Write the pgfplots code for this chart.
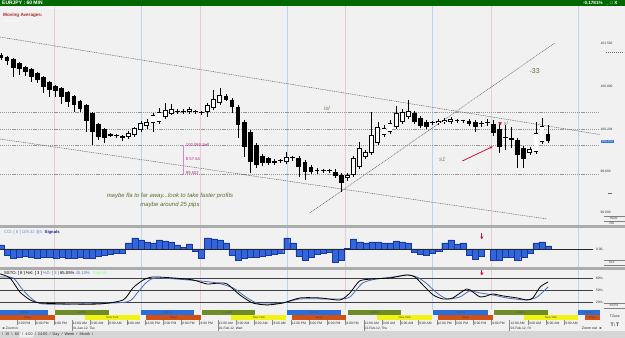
\documentclass[border=0pt]{standalone}
\usepackage{pgfplots}
\pgfplotsset{compat=1.18}
\usepackage{pgfplotstable}
\usepackage{fontspec}
\setmainfont{Liberation Sans}
\usetikzlibrary{arrows.meta}
\newcommand\fs[1]{\fontsize{#1}{#1}\selectfont}

\definecolor{bgc}{RGB}{241,241,241}
\definecolor{titlegreen}{RGB}{0,104,0}
\definecolor{gridblue}{RGB}{184,212,238}
\definecolor{gridpink}{RGB}{228,206,214}
\definecolor{hline}{RGB}{150,150,150}
\definecolor{tline}{RGB}{95,95,95}
\definecolor{ccibar}{RGB}{51,102,221}
\definecolor{cciedge}{RGB}{25,55,150}
\definecolor{dblue}{RGB}{74,111,181}
\definecolor{ccilab}{RGB}{100,140,215}
\definecolor{navy}{RGB}{20,30,140}
\definecolor{sydney}{RGB}{42,110,220}
\definecolor{london}{RGB}{110,140,40}
\definecolor{tokyo}{RGB}{210,80,20}
\definecolor{newyork}{RGB}{242,242,20}
\definecolor{olivetxt}{RGB}{88,110,45}
\definecolor{grayolive}{RGB}{120,135,90}
\definecolor{magtxt}{RGB}{180,40,140}
\definecolor{arrowred}{RGB}{200,20,60}
\definecolor{sepgray}{RGB}{172,172,172}
\definecolor{pricebox}{RGB}{48,112,224}
\definecolor{mared}{RGB}{170,40,40}
\definecolor{tabgray}{RGB}{214,214,214}

% candle data: i = hourly bar index, pixel-price scale (t = body top, b = body bottom, h = high, l = low)
\pgfplotstableread{
i t b h l
0 55 58 53 60
1 57 61 56 65
2 59 68 58 77
3 63 69 62 75
4 67 72 66 76
5 69 77 68 82
6 73 80 72 83
7 77 87 76 93
8 82 90 81 97
9 86 91 85 97
10 88 97 87 104
11 92 102 91 107
12 96 105 95 112
13 101 109 100 112
14 105 121 104 132
15 113 132 112 145
16 124 137 123 140
17 129 138 128 143
18 134 136 133 137
19 135 136.5 134 138
20 136 138 135 141
29 111.5 112.5 109 114
30 111.5 112.5 109 114
32 111.5 112.5 110 114
33 112 113.5 111 115
37 96 100 94 101
38 100 107 98 113
39 107 125 105 138
40 122 147 120 157
41 132 162 130 173
42 145 165 143 168
43 156 163 154 166
44 158 163 157 165
45 161 163 159 165
46 160.5 161.5 159 163
48 157.5 158.5 156 161
49 158 167 156 177
50 162 172 160 180
51 167 172 165 174
52 170.5 171.5 168 174
53 170.5 171.5 169 173
54 170.5 171.5 169 173
55 172 176 169 178
56 175 183 173 192
68 113 122 111 124
69 118 126 116 128
70 122 127 120 129
71 122.5 123.5 121 125
75 120.5 121.5 119 123
76 120.5 121.5 120 123
77 121 124 119 126
78 122 127 120 132
79 123.5 124.5 121 127
80 122.5 123.5 119 126
81 124 133 120 136
82 129 147 123 153
83 137.5 138.5 125 150
84 138 140 127 148
85 140 155 138 168
86 148 159 146 168
90 134 141 125 143
}\blackc

\pgfplotstableread{
i t b h l
21 133 137 131 139
22 128 135 127 137
23 123 130 121 132
24 122 126 119 129
25 115 123 113 132
26 112 122 108 124
27 110 117 103 119
28 109 114 104 115
31 109 112 107 114
34 105 112 103 117
35 99 108 90 110
36 95 103 88 105
47 157 162 152 164
57 175 178 173 181
58 158 175 156 177
59 148 167 142 169
60 152 157 150 159
61 135 153 112 155
62 127 143 122 145
63 128 135 125 137
64 123 132 120 134
65 113 127 106 129
66 112 122 109 124
67 111 117 100 119
72 121 123 119 125
73 120 122 118 124
74 119 122 117 124
87 149 153 147 155
88 133 152 122 154
89 126 142 118 144
}\whitec

\pgfplotstableread{
i v
0 4
1 -6
2 -9
3 -8
4 -7
5 -8
6 -9
7 -8
8 -8
9 -9
10 -8
11 -9
12 -9
13 -8
14 -9
15 -9
16 -7
17 -6
18 -5
19 -4
20 -4
21 6
22 11
23 9
24 7
25 6
26 9
27 8
28 7
29 4
30 1.5
31 5
32 -2
33 -9
34 11
35 10
36 9
37 6
38 -6
39 -11
40 -9
41 -8
42 -8
43 -7
44 -6
45 -5
46 -4
47 11
48 6
49 -7
50 -11
51 -8
52 -5
53 -4
54 -3
55 -13
56 -11
57 0.4
58 10
59 7
60 6
61 7
62 7
63 6
64 6
65 8
66 7
67 6
68 -3
69 -5
70 -6
71 -4
72 -2
73 6
74 9
75 5
76 6
77 -6
78 -10
79 -7
80 -0.4
81 -11
82 -11
83 -8
84 -8
85 -11
86 -8
87 -4
88 6
89 7
90 3
}\cci

\pgfplotstableread{
i k
-0.16 90
1.48 80
3.1 45
4.8 25
6.4 17.5
10.9 15
16.3 15
20.1 25
21.7 55
23.4 75
25.0 82.5
28.3 80
31.6 75
33.9 65
36.0 67.5
37.2 65
39.3 37.5
41.4 17.5
43.8 12.5
46.4 17.5
49.2 30
52.5 30
55.8 25
57.4 42.5
59.0 72.5
61.2 77.5
64.0 80
66.8 87.5
68.1 82.5
69.4 62.5
71.1 37.5
72.7 27.5
74.3 30
76.6 52.5
77.6 45
78.8 32.5
79.9 35
80.9 40
82.6 35
84.9 30
86.5 25
87.5 30
88.7 57.5
90.0 70
}\sstok

\pgfplotstableread{
i d
-0.16 82.5
2.0 80
3.6 50
5.3 25
6.9 15
13.0 15
20.7 20
22.4 42.5
24.0 70
25.7 80
32.7 72.5
35.5 67.5
38.2 55
40.5 30
42.6 15
46.4 17.5
49.2 27.5
55.8 27.5
57.4 32.5
59.5 67.5
61.8 77.5
64.5 82.5
66.8 87.5
68.4 82.5
69.9 67.5
71.7 42.5
73.4 27.5
75.5 32.5
77.1 47.5
78.8 42.5
80.9 37.5
83.2 30
86.5 25
88.2 32.5
90.0 57.5
}\sstod

\pgfplotsset{
  panel/.style={scale only axis, anchor=north west, width=600bp,
    xmin=-0.1645, xmax=98.52,
    axis line style={draw=none},
    axis background/.style={fill=bgc},
    xtick={23.03,47.03,71.03,95.03}, xticklabels={},
    minor xtick={8.72,32.72,56.72,80.72},
    xmajorgrids, xminorgrids,
    major grid style={draw=gridblue, line width=0.7bp, solid},
    minor grid style={draw=gridpink, line width=0.7bp, solid},
    tick style={draw=none}},
  candlebar/.style 2 args={draw=none, mark=none, forget plot,
    error bars/.cd, y dir=plus, y explicit,
    error mark=none, error mark options={draw=none, fill=none},
    error bar style={draw=#1, line width=#2, line cap=butt, solid}},
}

\begin{document}
\begin{tikzpicture}
\begin{scope}[x=1bp,y=-1bp]
\useasboundingbox (0,0) rectangle (625,338);
\fill[bgc] (0,0) rectangle (625,338);
\end{scope}

% ---------------- main price panel
\begin{axis}[panel, at={(0bp,-6bp)}, height=219bp,
  ymin=6, ymax=225, y dir=reverse,
  ytick={43,86,129,171,212},
  yticklabels={101.592,100.800,100.204,99.600,99.000},
  yticklabel pos=right,
  yticklabel style={font=\fs{3.3}, anchor=west, inner sep=0.6bp, text=black!80}]
\addplot[hline, line width=0.9bp, dash pattern=on 1.2bp off 0.9bp] coordinates {(-0.2,112) (99,112)};
\addplot[hline, line width=0.9bp, dash pattern=on 1.2bp off 0.9bp] coordinates {(-0.2,129) (99,129)};
\addplot[hline, line width=0.9bp, dash pattern=on 1.2bp off 0.9bp] coordinates {(-0.2,145) (99,145)};
\addplot[hline, line width=0.9bp, dash pattern=on 1.2bp off 0.9bp] coordinates {(-0.2,174) (99,174)};
\addplot[tline, line width=0.5bp, dash pattern=on 1bp off 0.8bp] coordinates {(-0.16,37) (99,135)};
\addplot[tline, line width=0.5bp, dash pattern=on 1bp off 0.8bp] coordinates {(-0.16,139) (89.8,219)};
\addplot[tline, line width=0.5bp, dash pattern=on 1bp off 0.8bp] coordinates {(50.8,213) (91.1,43)};
\addplot[magtxt!55, line width=0.5bp] coordinates {(29.9,145) (29.9,174)};
% candles: wicks, bodies, hollow interiors of rising candles
\addplot[candlebar={black}{0.6bp}] table[x=i, y=h, y error expr=\thisrow{l}-\thisrow{h}] {\blackc};
\addplot[candlebar={black}{0.6bp}] table[x=i, y=h, y error expr=\thisrow{l}-\thisrow{h}] {\whitec};
\addplot[candlebar={black}{4.8bp}] table[x=i, y=t, y error expr=\thisrow{b}-\thisrow{t}] {\blackc};
\addplot[candlebar={black}{4.8bp}] table[x=i, y=t, y error expr=\thisrow{b}-\thisrow{t}] {\whitec};
\addplot[candlebar={white}{3.2bp}] table[x=i, y expr=\thisrow{t}+0.8, y error expr=\thisrow{b}-\thisrow{t}-1.6] {\whitec};
% annotations
\addplot[only marks, mark=triangle*, mark size=1.6bp, mark options={rotate=180, fill=arrowred, draw=arrowred}] coordinates {(82.1,123.5)};
\addplot[arrowred, line width=0.8bp, -{Stealth[length=3.2bp, width=2.8bp]}] coordinates {(75.9,161) (80.9,146.5)};
\node[font=\fs{7}, text=olivetxt] at (axis cs:87.8,71) {-33};
\node[font=\itshape\fs{6}, text=grayolive] at (axis cs:53.6,108) {isl};
\node[font=\itshape\fs{6}, text=grayolive] at (axis cs:72.6,160) {s1};
\node[font=\itshape\fs{5.5}, text=grayolive, anchor=west, inner sep=0] at (axis cs:82.7,124) {sl};
\node[font=\fs{4.2}, text=magtxt, anchor=west, inner sep=0] at (axis cs:30.4,145.5) {100.080 Sell};
\node[font=\fs{4.2}, text=magtxt, anchor=west, inner sep=0] at (axis cs:30.4,159.5) {\$ 57.64};
\node[font=\fs{4.2}, text=magtxt, anchor=west, inner sep=0] at (axis cs:30.4,173.5) {99.502};
\node[font=\itshape\fs{6}, text=olivetxt, inner sep=0] at (axis cs:27.8,196) {maybe fla to far away...look to take faster profits};
\node[font=\itshape\fs{6}, text=olivetxt, inner sep=0] at (axis cs:27.8,204.5) {maybe around 25 pips};
\end{axis}

% ---------------- CCI panel
\begin{axis}[panel, at={(0bp,-228bp)}, height=39bp, ymin=-18, ymax=21, ytick=\empty]
\addplot[ybar, bar width=1, fill=ccibar, draw=cciedge, line width=0.3bp] table[x=i, y=v] {\cci};
\addplot[black!85, line width=0.9bp] coordinates {(-0.2,0) (97.4,0)};
\addplot[arrowred, line width=0.7bp] coordinates {(79.1,16) (79.1,12)};
\addplot[only marks, mark=triangle*, mark size=1.4bp, mark options={rotate=180, fill=arrowred, draw=arrowred}] coordinates {(79.1,11.5)};
\end{axis}

% ---------------- SSTO panel
\begin{axis}[panel, at={(0bp,-270bp)}, height=40bp, ymin=0, ymax=100, ytick=\empty]
\addplot[black!75, line width=0.7bp] coordinates {(-0.2,80) (97.4,80)};
\addplot[black!75, line width=0.7bp] coordinates {(-0.2,50) (97.4,50)};
\addplot[black!75, line width=0.7bp] coordinates {(-0.2,20) (97.4,20)};
\addplot[dblue, line width=0.8bp, smooth, tension=0.4] table[x=i, y=d] {\sstod};
\addplot[black, line width=0.8bp, smooth, tension=0.4] table[x=i, y=k] {\sstok};
\addplot[arrowred, line width=0.7bp] coordinates {(79.1,100) (79.1,92)};
\addplot[only marks, mark=triangle*, mark size=1.4bp, mark options={rotate=180, fill=arrowred, draw=arrowred}] coordinates {(79.1,91)};
\end{axis}

% ---------------- trading sessions
\begin{axis}[scale only axis, anchor=north west, at={(0bp,-310.5bp)}, width=600bp, height=9.5bp,
  xmin=-0.1645, xmax=98.52, ymin=311, ymax=320, y dir=reverse, hide axis]
\addplot[fill=sydney, draw=none] coordinates {(-0.2,311) (7.73,311) (7.73,315.5) (-0.2,315.5)} -- cycle;
\addplot[fill=sydney, draw=none] coordinates {(23.03,311) (31.74,311) (31.74,315.5) (23.03,315.5)} -- cycle;
\addplot[fill=sydney, draw=none] coordinates {(47.04,311) (55.92,311) (55.92,315.5) (47.04,315.5)} -- cycle;
\addplot[fill=sydney, draw=none] coordinates {(71.05,311) (80.10,311) (80.10,315.5) (71.05,315.5)} -- cycle;
\addplot[fill=sydney, draw=none] coordinates {(94.90,311) (98.6,311) (98.6,315.5) (94.90,315.5)} -- cycle;
\addplot[fill=london, draw=none] coordinates {(8.88,311) (17.76,311) (17.76,315.5) (8.88,315.5)} -- cycle;
\addplot[fill=london, draw=none] coordinates {(33.06,311) (41.78,311) (41.78,315.5) (33.06,315.5)} -- cycle;
\addplot[fill=london, draw=none] coordinates {(57.07,311) (65.79,311) (65.79,315.5) (57.07,315.5)} -- cycle;
\addplot[fill=london, draw=none] coordinates {(81.09,311) (89.97,311) (89.97,315.5) (81.09,315.5)} -- cycle;
\addplot[fill=tokyo, draw=none] coordinates {(-0.2,315.5) (8.88,315.5) (8.88,320) (-0.2,320)} -- cycle;
\addplot[fill=tokyo, draw=none] coordinates {(23.85,315.5) (32.89,315.5) (32.89,320) (23.85,320)} -- cycle;
\addplot[fill=tokyo, draw=none] coordinates {(47.86,315.5) (56.74,315.5) (56.74,320) (47.86,320)} -- cycle;
\addplot[fill=tokyo, draw=none] coordinates {(71.88,315.5) (80.92,315.5) (80.92,320) (71.88,320)} -- cycle;
\addplot[fill=tokyo, draw=none] coordinates {(96.05,315.5) (98.6,315.5) (98.6,320) (96.05,320)} -- cycle;
\addplot[fill=newyork, draw=none] coordinates {(13.82,315.5) (22.86,315.5) (22.86,320) (13.82,320)} -- cycle;
\addplot[fill=newyork, draw=none] coordinates {(37.83,315.5) (46.88,315.5) (46.88,320) (37.83,320)} -- cycle;
\addplot[fill=newyork, draw=none] coordinates {(61.84,315.5) (70.89,315.5) (70.89,320) (61.84,320)} -- cycle;
\addplot[fill=newyork, draw=none] coordinates {(86.02,315.5) (94.90,315.5) (94.90,320) (86.02,320)} -- cycle;
\foreach \xx in {3.8,27.4,51.5,75.6,96.7} {\edef\tmp{\noexpand\node[font=\noexpand\fs{2.8}, text=black!70, inner sep=0] at (axis cs:\xx,313.3) {Sydney};}\tmp}
\foreach \xx in {13.3,37.4,61.4,85.5} {\edef\tmp{\noexpand\node[font=\noexpand\fs{2.8}, text=black!70, inner sep=0] at (axis cs:\xx,313.3) {London};}\tmp}
\foreach \xx in {4.4,28.4,52.3,76.4,97.3} {\edef\tmp{\noexpand\node[font=\noexpand\fs{2.8}, text=black!75, inner sep=0] at (axis cs:\xx,317.8) {Tokyo};}\tmp}
\foreach \xx in {18.3,42.4,66.4,90.5} {\edef\tmp{\noexpand\node[font=\noexpand\fs{2.8}, text=black!75, inner sep=0] at (axis cs:\xx,317.8) {New York};}\tmp}
\end{axis}

% ---------------- time axis
\begin{axis}[scale only axis, anchor=north west, at={(0bp,-320bp)}, width=600bp, height=5.5bp,
  xmin=-0.1645, xmax=98.52, ymin=0, ymax=1, axis line style={draw=none},
  xtick={2.68,5.68,8.68,11.68,14.68,17.68,20.68,23.68,26.68,29.68,32.68,35.68,38.68,41.68,44.68,47.68,50.68,53.68,56.68,59.68,62.68,65.68,68.68,71.68,74.68,77.68,80.68,83.68,86.68,89.68,92.68},
  xticklabels={3:00 PM,6:00 PM,9:00 PM,12:00 AM,3:00 AM,6:00 AM,9:00 AM,12:00 PM,3:00 PM,6:00 PM,9:00 PM,12:00 AM,3:00 AM,6:00 AM,9:00 AM,12:00 PM,3:00 PM,6:00 PM,9:00 PM,12:00 AM,3:00 AM,6:00 AM,9:00 AM,12:00 PM,3:00 PM,6:00 PM,9:00 PM,12:00 AM,3:00 AM,6:00 AM,9:00 AM},
  xmajorgrids, major grid style={draw=black!45, line width=0.4bp},
  ytick=\empty, tick style={draw=none},
  xticklabel style={anchor=south west, inner sep=0pt, font=\fs{3.3}, text=black!85, xshift=0.7bp, yshift=1.0bp}]
\addplot[draw=none] coordinates {(0,0)};
\end{axis}

% ---------------- date axis
\begin{axis}[scale only axis, anchor=north west, at={(0bp,-325.5bp)}, width=600bp, height=5.5bp,
  xmin=-0.1645, xmax=98.52, ymin=0, ymax=1, axis line style={draw=none},
  xtick={11.68,35.68,59.68,83.68},
  xticklabels={{31-Jan-12, Tue},{01-Feb-12, Wed},{02-Feb-12, Thu},{03-Feb-12, Fri}},
  xmajorgrids, major grid style={draw=black!45, line width=0.4bp},
  ytick=\empty, tick style={draw=none},
  xticklabel style={anchor=south west, inner sep=0pt, font=\fs{3.3}, text=black!85, xshift=0.7bp, yshift=1.0bp}]
\addplot[draw=none] coordinates {(0,0)};
\end{axis}

% ---------------- window chrome and labels
\begin{scope}[x=1bp,y=-1bp]
\fill[titlegreen] (0,0) rectangle (625,6);
\node[anchor=west, text=white, font=\bfseries\fs{5}, inner sep=0] at (2,3.1) {EURJPY : 60 MIN};
\node[anchor=east, text=white, font=\bfseries\fs{4.6}, inner sep=0] at (603,3.1) {-0.1781\%};
\node[anchor=west, text=white, font=\bfseries\fs{4.6}, inner sep=0] at (606,3.1) {\_\,\,□\,\,X};
\node[anchor=west, text=white, font=\fs{3.6}, inner sep=0] at (3,9) {O: 100.263 \ H: 100.318 \ L: 100.072 \ C: 100.078 \ Change: -0.224 | -0.22\%};
\node[anchor=west, text=mared, font=\bfseries\fs{4.6}, inner sep=0] at (3,15.2) {Moving Averages:};
\node[anchor=west, text=white, font=\fs{3.8}, inner sep=0] at (4,21.5) {Alerts on};
\fill[sepgray] (0,225) rectangle (625,228);
\fill[sepgray] (0,267) rectangle (625,270.5);
\draw[black!60, line width=0.4bp, dash pattern=on 1bp off 1bp] (606,52) -- (624,52);
\draw[black!60, line width=0.4bp] (608,193) -- (612,193);
\node[fill=pricebox, text=white, font=\fs{3.3}, inner sep=0.7bp, anchor=west] at (600.6,141.5) {100.072};
\draw[black!50, line width=0.3bp] (604,216) -- (625,216) (604,221) -- (625,221);
\node[font=\fs{3.2}, text=black!80, inner sep=0] at (614,218.6) {Hertz};
\node[font=\fs{3.2}, text=black!80, inner sep=0] at (612,223.4) {RA};
\node[anchor=west, inner sep=0, font=\fs{4.2}] at (4,232.5) {\textcolor{ccilab}{CCI: [ 6 ] 109.32 @0}\ \ \textcolor{navy}{\bfseries Signals}};
\node[anchor=east, inner sep=0, font=\fs{3.3}, text=black!85] at (604,249) {0.00-};
\draw[black!50, line width=0.3bp] (604,260) -- (625,260) (604,265) -- (625,265);
\node[font=\fs{3.2}, text=black!80, inner sep=0] at (612,262.6) {CCI};
\node[anchor=west, inner sep=0, font=\fs{4.2}] at (4,273.8) {SSTO: [ 8 ] \%K: [ 3 ] \textcolor{dblue}{\%D: [ 3 ]} 65.05\% \textcolor{dblue}{45.13\%}\ \ \ \textcolor{green!45!white}{Signals}};
\node[anchor=east, inner sep=0, font=\fs{3.3}, text=black!85] at (604,278) {80\%-};
\node[anchor=east, inner sep=0, font=\fs{3.3}, text=black!85] at (604,290) {50\%-};
\node[anchor=east, inner sep=0, font=\fs{3.3}, text=black!85] at (604,302) {20\%-};
\draw[black!50, line width=0.3bp] (604,303) -- (625,303) (604,308) -- (625,308);
\node[font=\fs{3.2}, text=black!80, inner sep=0] at (614,305.6) {SSTO};
\node[font=\fs{3.4}, text=black!85, inner sep=0] at (615,316) {TZone};
\node[font=\bfseries\fs{5}, text=black!80, inner sep=0] at (615,325) {T↓T};
\node[anchor=west, font=\fs{3.4}, text=black!85, inner sep=0] at (1.5,328.8) {◄ Zoom in};
\node[anchor=east, font=\fs{3.6}, text=black!85, inner sep=0] at (603,328.8) {Zoom out \ ►};
\fill[tabgray] (0,331.5) rectangle (625,338);
\fill[bgc] (21,331.5) -- (35,331.5) -- (33,337.5) -- (19,337.5) -- cycle;
\node[anchor=west, font=\fs{3.8}, text=black!85, inner sep=0] at (2,335) {\textbackslash\ \ 15 \ \textbackslash\ \ 60 \ \ / \ 4:00 \ / \ 24:00 \ / \ Day \ / \ Week \ / \ Month \ /};
\end{scope}
\end{tikzpicture}
\end{document}
